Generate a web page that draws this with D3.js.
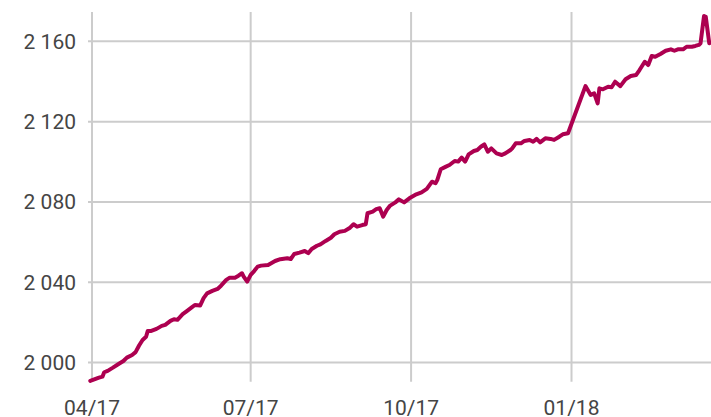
<!DOCTYPE html>
<html><head><meta charset="utf-8">
<script src="https://cdn.jsdelivr.net/npm/d3@7"></script>
<style>body{margin:0;background:#fff}svg{display:block}</style>
</head><body><svg id="c" width="711" height="417"></svg>
<script>
const dates = ["2017-03-31","2017-04-05","2017-04-07","2017-04-08","2017-04-10","2017-04-13","2017-04-16","2017-04-19","2017-04-21","2017-04-24",
"2017-04-26","2017-04-28","2017-04-30","2017-05-02","2017-05-03","2017-05-05","2017-05-08","2017-05-11","2017-05-13","2017-05-16",
"2017-05-18","2017-05-20","2017-05-23","2017-05-25","2017-05-28","2017-05-30","2017-06-02","2017-06-04","2017-06-06","2017-06-09",
"2017-06-12","2017-06-14","2017-06-17","2017-06-19","2017-06-22","2017-06-24","2017-06-26","2017-06-27","2017-06-29","2017-07-01",
"2017-07-03","2017-07-05","2017-07-07","2017-07-11","2017-07-15","2017-07-18","2017-07-22","2017-07-24","2017-07-26","2017-07-29",
"2017-08-01","2017-08-03","2017-08-05","2017-08-08","2017-08-10","2017-08-13","2017-08-16","2017-08-18","2017-08-21","2017-08-24",
"2017-08-27","2017-08-29","2017-08-31","2017-09-03","2017-09-05","2017-09-06","2017-09-09","2017-09-11","2017-09-13","2017-09-15",
"2017-09-17","2017-09-19","2017-09-22","2017-09-24","2017-09-27","2017-09-30","2017-10-03","2017-10-04","2017-10-07","2017-10-10",
"2017-10-13","2017-10-15","2017-10-16","2017-10-18","2017-10-21","2017-10-23","2017-10-26","2017-10-28","2017-10-30","2017-11-01",
"2017-11-03","2017-11-06","2017-11-08","2017-11-10","2017-11-12","2017-11-14","2017-11-16","2017-11-19","2017-11-22","2017-11-24",
"2017-11-27","2017-11-28","2017-11-30","2017-12-03","2017-12-05","2017-12-08","2017-12-10","2017-12-12","2017-12-14","2017-12-17",
"2017-12-20","2017-12-22","2017-12-25","2017-12-27","2017-12-30","2018-01-09","2018-01-12","2018-01-14","2018-01-16","2018-01-17",
"2018-01-19","2018-01-22","2018-01-24","2018-01-26","2018-01-29","2018-02-01","2018-02-04","2018-02-07","2018-02-09","2018-02-12",
"2018-02-14","2018-02-16","2018-02-18","2018-02-21","2018-02-24","2018-02-27","2018-03-01","2018-03-03","2018-03-06","2018-03-08",
"2018-03-11","2018-03-13","2018-03-15","2018-03-16","2018-03-18","2018-03-19","2018-03-21"];
const values = [1990.9,1992.5,1993.0,1995.2,1995.9,1997.5,1999.2,2000.8,2002.5,2003.8,
2005.2,2008.5,2011.3,2012.9,2015.8,2015.8,2016.8,2018.3,2018.8,2020.8,
2021.6,2021.3,2024.1,2025.4,2027.4,2028.7,2028.4,2032.1,2034.5,2035.7,
2036.7,2038.3,2041.2,2042.3,2042.3,2043.3,2044.5,2042.8,2040.3,2043.7,
2045.6,2047.8,2048.3,2048.6,2050.6,2051.5,2052.0,2051.6,2054.1,2054.8,
2055.6,2054.5,2056.6,2058.2,2058.9,2060.6,2062.2,2063.9,2065.2,2065.6,
2067.2,2068.9,2067.7,2068.5,2068.9,2074.4,2075.2,2076.4,2076.9,2072.7,
2076.0,2078.2,2079.8,2081.3,2079.8,2081.8,2083.3,2083.8,2084.8,2086.5,
2090.1,2089.3,2090.9,2096.3,2097.6,2098.4,2100.4,2100.1,2102.1,2100.1,
2103.7,2105.4,2105.9,2107.5,2108.7,2105.0,2106.7,2104.2,2103.4,2104.2,
2105.9,2106.7,2109.2,2109.2,2110.4,2110.9,2110.0,2111.4,2109.7,2111.7,
2111.4,2110.9,2112.5,2113.7,2114.2,2137.7,2133.3,2134.1,2129.1,2136.6,
2136.1,2137.4,2137.1,2139.9,2137.7,2141.1,2142.7,2143.2,2145.7,2149.8,
2148.2,2152.7,2152.3,2153.7,2155.3,2156.0,2155.3,2156.0,2156.0,2157.3,
2157.3,2157.7,2158.2,2159.0,2172.6,2172.2,2159.0];
const yTicks = [2000, 2040, 2080, 2120, 2160];
const xTickDates = ["2017-04-01","2017-07-01","2017-10-01","2018-01-01"];
const xTickLabels = ["04/17","07/17","10/17","01/18"];

const parse = d3.utcParse("%Y-%m-%d");
const data = dates.map((d,i)=>({date: parse(d), value: values[i]}));
const svg = d3.select("#c");

const x = d3.scaleUtc().domain([parse("2017-04-01"), parse("2018-03-22")]).range([92, 711]);
const y = d3.scaleLinear().domain([1990.5, 2174.6]).range([381.7, 12]);

const fmt = d3.formatLocale({decimal: ",", thousands: " ", grouping: [3], currency: ["", ""]}).format(",d");
const grid = "#cccccc";
const textCol = "#454545";
const font = "Roboto, 'Noto Sans', sans-serif";

// horizontal grid
svg.append("g").selectAll("line").data(yTicks).join("line")
  .attr("x1", 88).attr("x2", 711)
  .attr("y1", d => y(d)).attr("y2", d => y(d))
  .attr("stroke", grid).attr("stroke-width", 2);
// vertical grid
svg.append("g").selectAll("line").data(xTickDates).join("line")
  .attr("x1", d => x(parse(d))).attr("x2", d => x(parse(d)))
  .attr("y1", 12).attr("y2", 381.7)
  .attr("stroke", grid).attr("stroke-width", 2);

// y labels
svg.append("g").selectAll("text").data(yTicks).join("text")
  .attr("x", 76).attr("y", d => y(d)).attr("dy", "0.35em")
  .attr("text-anchor", "end")
  .attr("font-family", font).attr("font-size", 21).attr("fill", textCol)
  .text(d => fmt(d));

// x labels
svg.append("g").selectAll("text").data(xTickDates).join("text")
  .attr("x", d => x(parse(d))).attr("y", 414.5)
  .attr("text-anchor", "middle")
  .attr("font-family", font).attr("font-size", 21).attr("fill", textCol)
  .text((d,i) => xTickLabels[i]);

// line
svg.append("path").datum(data)
  .attr("fill", "none").attr("stroke", "#ad0050").attr("stroke-width", 4)
  .attr("stroke-linejoin", "round").attr("stroke-linecap", "round")
  .attr("d", d3.line().x(d => x(d.date)).y(d => y(d.value)));
</script>
</body></html>
